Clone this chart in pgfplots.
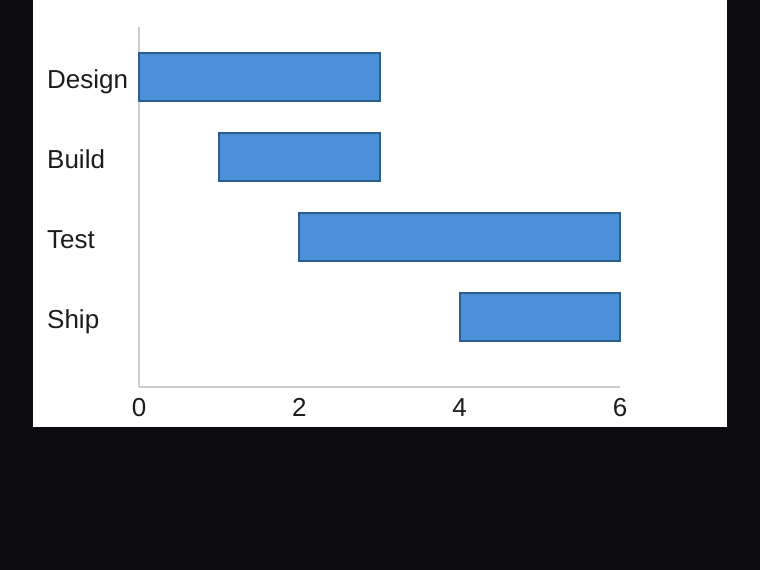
\documentclass[border=0pt]{standalone}
\usepackage{pgfplots}
\pgfplotsset{compat=1.18}
\usepackage{fontspec}
\setmainfont{Liberation Sans}
\definecolor{bg}{HTML}{0C0B10}
\definecolor{barfill}{HTML}{4A8FD8}
\definecolor{baredge}{HTML}{2A5E8C}
\definecolor{axgray}{HTML}{CCCCCC}
\definecolor{txt}{HTML}{1C1C1C}
\begin{document}
\begin{tikzpicture}[x=1pt,y=1pt]
\fill[bg] (0,0) rectangle (760,570);
\fill[white] (33,143) rectangle (727,570);
\begin{axis}[
  at={(139pt,183pt)}, anchor=south west,
  width=481pt, height=360pt, scale only axis,
  xmin=0, xmax=6, ymin=-0.875, ymax=3.625,
  xbar stacked, bar width=48pt,
  axis lines*=left,
  axis line style={draw=axgray, line width=2pt},
  xtick={0,2,4,6}, ytick={0,1,2,3},
  yticklabels={Ship,Test,Build,Design},
  major tick length=0pt,
  tick label style={font=\fontsize{26}{31}\selectfont, text=txt},
  yticklabel style={anchor=base west, inner sep=0pt, xshift=-92pt, yshift=-11.5pt},
  xticklabel style={anchor=north, inner sep=0pt, yshift=-11.5pt},
  /pgf/number format/assume math mode=true,
  clip=false,
]
\addplot[draw=none, fill=none] coordinates {(0,3) (1,2) (2,1) (4,0)};
\addplot[fill=barfill, draw=baredge, line width=2pt] coordinates {(3,3) (2,2) (4,1) (2,0)};
\end{axis}
\end{tikzpicture}
\end{document}
